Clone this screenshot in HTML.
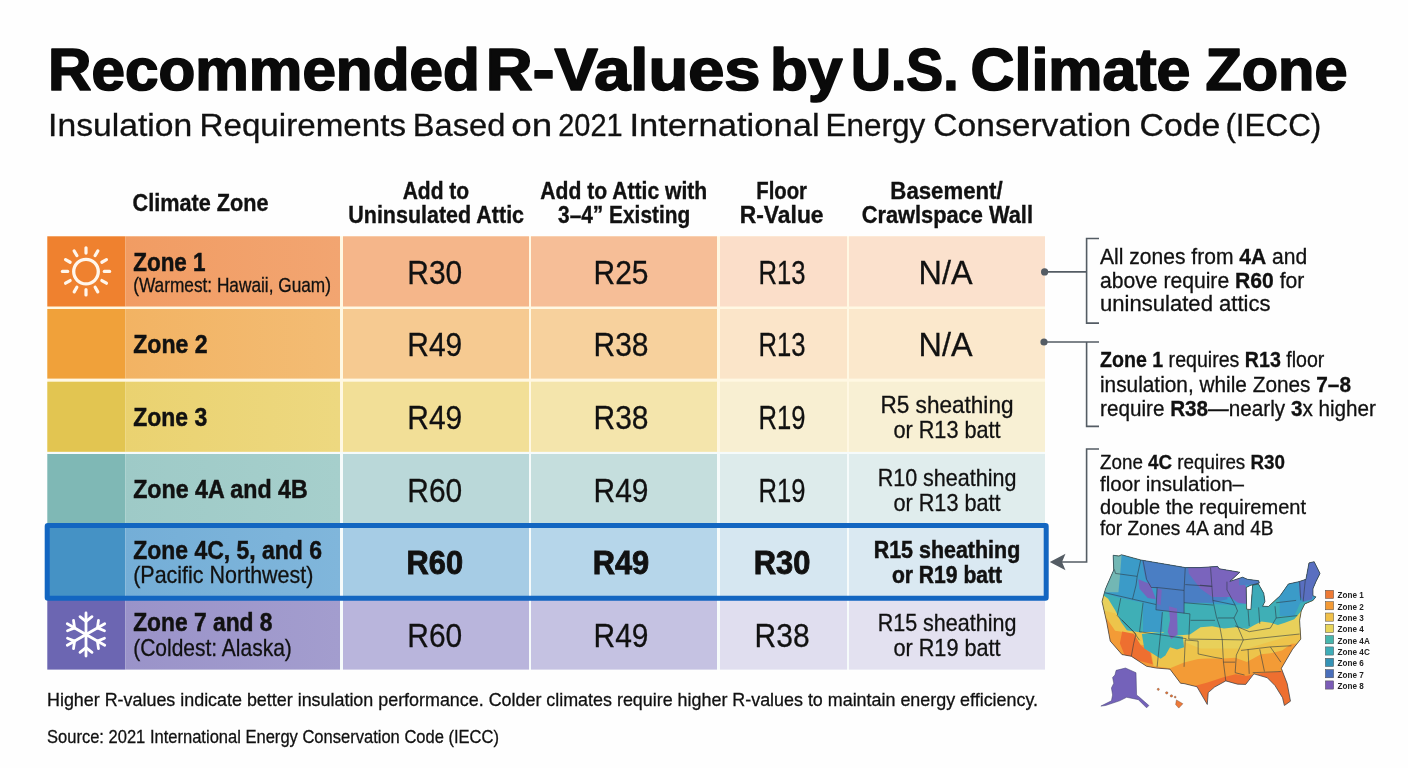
<!DOCTYPE html><html><head><meta charset="utf-8"><title>Recommended R-Values by U.S. Climate Zone</title>
<style>html,body{margin:0;padding:0;background:#fff;width:1408px;height:768px;overflow:hidden}svg{display:block;font-family:"Liberation Sans",sans-serif;will-change:transform}</style></head><body>
<svg width="1408" height="768" viewBox="0 0 1408 768">
<rect width="1408" height="768" fill="#fefefe"/>
<text x="48.1" y="90.2" font-size="58.6" font-weight="700" text-anchor="start" fill="#0a0a0a" textLength="431.6" lengthAdjust="spacingAndGlyphs" stroke="#0a0a0a" stroke-width="1.7" stroke-linejoin="round">Recommended</text>
<text x="485.8" y="90.2" font-size="58.6" font-weight="700" text-anchor="start" fill="#0a0a0a" textLength="274.7" lengthAdjust="spacingAndGlyphs" stroke="#0a0a0a" stroke-width="1.7" stroke-linejoin="round">R-Values</text>
<text x="770.0" y="90.2" font-size="58.6" font-weight="700" text-anchor="start" fill="#0a0a0a" textLength="72.5" lengthAdjust="spacingAndGlyphs" stroke="#0a0a0a" stroke-width="1.7" stroke-linejoin="round">by</text>
<text x="851.1" y="90.2" font-size="58.6" font-weight="700" text-anchor="start" fill="#0a0a0a" textLength="107.4" lengthAdjust="spacingAndGlyphs" stroke="#0a0a0a" stroke-width="1.7" stroke-linejoin="round">U.S.</text>
<text x="970.5" y="90.2" font-size="58.6" font-weight="700" text-anchor="start" fill="#0a0a0a" textLength="220" lengthAdjust="spacingAndGlyphs" stroke="#0a0a0a" stroke-width="1.7" stroke-linejoin="round">Climate</text>
<text x="1205.5" y="90.2" font-size="58.6" font-weight="700" text-anchor="start" fill="#0a0a0a" textLength="142" lengthAdjust="spacingAndGlyphs" stroke="#0a0a0a" stroke-width="1.7" stroke-linejoin="round">Zone</text>
<text x="48.1" y="135.9" font-size="31.5" font-weight="400" text-anchor="start" fill="#111" textLength="144.2" lengthAdjust="spacingAndGlyphs" stroke="#111" stroke-width="0.3">Insulation</text>
<text x="199.5" y="135.9" font-size="31.5" font-weight="400" text-anchor="start" fill="#111" textLength="206.5" lengthAdjust="spacingAndGlyphs" stroke="#111" stroke-width="0.3">Requirements</text>
<text x="412.8" y="135.9" font-size="31.5" font-weight="400" text-anchor="start" fill="#111" textLength="92.5" lengthAdjust="spacingAndGlyphs" stroke="#111" stroke-width="0.3">Based</text>
<text x="511.3" y="135.9" font-size="31.5" font-weight="400" text-anchor="start" fill="#111" textLength="41.0" lengthAdjust="spacingAndGlyphs" stroke="#111" stroke-width="0.3">on</text>
<text x="558.2" y="135.9" font-size="31.5" font-weight="400" text-anchor="start" fill="#111" textLength="64.4" lengthAdjust="spacingAndGlyphs" stroke="#111" stroke-width="0.3">2021</text>
<text x="629.4" y="135.9" font-size="31.5" font-weight="400" text-anchor="start" fill="#111" textLength="190.2" lengthAdjust="spacingAndGlyphs" stroke="#111" stroke-width="0.3">International</text>
<text x="825.5" y="135.9" font-size="31.5" font-weight="400" text-anchor="start" fill="#111" textLength="99.6" lengthAdjust="spacingAndGlyphs" stroke="#111" stroke-width="0.3">Energy</text>
<text x="933.3" y="135.9" font-size="31.5" font-weight="400" text-anchor="start" fill="#111" textLength="198.0" lengthAdjust="spacingAndGlyphs" stroke="#111" stroke-width="0.3">Conservation</text>
<text x="1139.6" y="135.9" font-size="31.5" font-weight="400" text-anchor="start" fill="#111" textLength="80.7" lengthAdjust="spacingAndGlyphs" stroke="#111" stroke-width="0.3">Code</text>
<text x="1225.4" y="135.9" font-size="31.5" font-weight="400" text-anchor="start" fill="#111" textLength="95.9" lengthAdjust="spacingAndGlyphs" stroke="#111" stroke-width="0.3">(IECC)</text>
<text x="132.5" y="210.9" font-size="23.3" font-weight="700" text-anchor="start" fill="#111" textLength="136" lengthAdjust="spacingAndGlyphs" stroke="#111" stroke-width="0.35">Climate Zone</text>
<text x="435.9" y="198.9" font-size="23.3" font-weight="700" text-anchor="middle" fill="#111" textLength="66.5" lengthAdjust="spacingAndGlyphs" stroke="#111" stroke-width="0.35">Add to</text>
<text x="436.15" y="222.8" font-size="23.3" font-weight="700" text-anchor="middle" fill="#111" textLength="175.8" lengthAdjust="spacingAndGlyphs" stroke="#111" stroke-width="0.35">Uninsulated Attic</text>
<text x="623.75" y="198.9" font-size="23.3" font-weight="700" text-anchor="middle" fill="#111" textLength="167.0" lengthAdjust="spacingAndGlyphs" stroke="#111" stroke-width="0.35">Add to Attic with</text>
<text x="624.15" y="222.8" font-size="23.3" font-weight="700" text-anchor="middle" fill="#111" textLength="132.2" lengthAdjust="spacingAndGlyphs" stroke="#111" stroke-width="0.35">3–4” Existing</text>
<text x="781.6" y="198.9" font-size="23.3" font-weight="700" text-anchor="middle" fill="#111" textLength="50.7" lengthAdjust="spacingAndGlyphs" stroke="#111" stroke-width="0.35">Floor</text>
<text x="781.65" y="222.8" font-size="23.3" font-weight="700" text-anchor="middle" fill="#111" textLength="83.8" lengthAdjust="spacingAndGlyphs" stroke="#111" stroke-width="0.35">R-Value</text>
<text x="946.5" y="198.9" font-size="23.3" font-weight="700" text-anchor="middle" fill="#111" textLength="112.3" lengthAdjust="spacingAndGlyphs" stroke="#111" stroke-width="0.35">Basement/</text>
<text x="947.3" y="222.8" font-size="23.3" font-weight="700" text-anchor="middle" fill="#111" textLength="171.3" lengthAdjust="spacingAndGlyphs" stroke="#111" stroke-width="0.35">Crawlspace Wall</text>
<defs>
<linearGradient id="zg0" x1="0" x2="1" y1="0" y2="0"><stop offset="0" stop-color="#F19C63"/><stop offset="1" stop-color="#F2A571"/></linearGradient>
<linearGradient id="zg1" x1="0" x2="1" y1="0" y2="0"><stop offset="0" stop-color="#F2B363"/><stop offset="1" stop-color="#F3BC74"/></linearGradient>
<linearGradient id="zg2" x1="0" x2="1" y1="0" y2="0"><stop offset="0" stop-color="#EAD270"/><stop offset="1" stop-color="#EDD880"/></linearGradient>
<linearGradient id="zg3" x1="0" x2="1" y1="0" y2="0"><stop offset="0" stop-color="#9ECAC7"/><stop offset="1" stop-color="#A6CFCC"/></linearGradient>
<linearGradient id="zg4" x1="0" x2="1" y1="0" y2="0"><stop offset="0" stop-color="#74AED7"/><stop offset="1" stop-color="#80B6DB"/></linearGradient>
<linearGradient id="zg5" x1="0" x2="1" y1="0" y2="0"><stop offset="0" stop-color="#9A93C9"/><stop offset="1" stop-color="#A39DCE"/></linearGradient>
</defs>
<rect x="47.3" y="236.3" width="997.7" height="218" fill="#FFF8E3"/>
<rect x="47.3" y="452" width="997.7" height="217.6" fill="#F6FBFB"/>
<rect x="47.3" y="236.3" width="78" height="70.19999999999999" fill="#EF812F"/>
<rect x="125.3" y="236.3" width="214.7" height="70.19999999999999" fill="url(#zg0)"/>
<rect x="343" y="236.3" width="186" height="70.19999999999999" fill="#F5B68A"/>
<rect x="531" y="236.3" width="186" height="70.19999999999999" fill="#F6BE97"/>
<rect x="720" y="236.3" width="127" height="70.19999999999999" fill="#FBDEC9"/>
<rect x="849" y="236.3" width="196" height="70.19999999999999" fill="#FBE1CD"/>
<rect x="47.3" y="309" width="78" height="69.60000000000002" fill="#F0A13A"/>
<rect x="125.3" y="309" width="214.7" height="69.60000000000002" fill="url(#zg1)"/>
<rect x="343" y="309" width="186" height="69.60000000000002" fill="#F6CA91"/>
<rect x="531" y="309" width="186" height="69.60000000000002" fill="#F7D19D"/>
<rect x="720" y="309" width="127" height="69.60000000000002" fill="#FBE5C9"/>
<rect x="849" y="309" width="196" height="69.60000000000002" fill="#FBE8CC"/>
<rect x="47.3" y="381.7" width="78" height="70.10000000000002" fill="#E2C551"/>
<rect x="125.3" y="381.7" width="214.7" height="70.10000000000002" fill="url(#zg2)"/>
<rect x="343" y="381.7" width="186" height="70.10000000000002" fill="#F2DF97"/>
<rect x="531" y="381.7" width="186" height="70.10000000000002" fill="#F4E5AC"/>
<rect x="720" y="381.7" width="127" height="70.10000000000002" fill="#F8EFD2"/>
<rect x="849" y="381.7" width="196" height="70.10000000000002" fill="#F8F0D4"/>
<rect x="47.3" y="454" width="78" height="70.20000000000005" fill="#7FB8B5"/>
<rect x="125.3" y="454" width="214.7" height="70.20000000000005" fill="url(#zg3)"/>
<rect x="343" y="454" width="186" height="70.20000000000005" fill="#BAD8D9"/>
<rect x="531" y="454" width="186" height="70.20000000000005" fill="#C5DEDD"/>
<rect x="720" y="454" width="127" height="70.20000000000005" fill="#DDEBEB"/>
<rect x="849" y="454" width="196" height="70.20000000000005" fill="#E0EDED"/>
<rect x="47.3" y="526.6" width="78" height="70.10000000000002" fill="#4592C5"/>
<rect x="125.3" y="526.6" width="214.7" height="70.10000000000002" fill="url(#zg4)"/>
<rect x="343" y="526.6" width="186" height="70.10000000000002" fill="#A6CCE5"/>
<rect x="531" y="526.6" width="186" height="70.10000000000002" fill="#B6D6EA"/>
<rect x="720" y="526.6" width="127" height="70.10000000000002" fill="#D6E7F1"/>
<rect x="849" y="526.6" width="196" height="70.10000000000002" fill="#DAE9F2"/>
<rect x="47.3" y="599.2" width="78" height="70.39999999999998" fill="#6C66B2"/>
<rect x="125.3" y="599.2" width="214.7" height="70.39999999999998" fill="url(#zg5)"/>
<rect x="343" y="599.2" width="186" height="70.39999999999998" fill="#B9B5DC"/>
<rect x="531" y="599.2" width="186" height="70.39999999999998" fill="#C5C2E2"/>
<rect x="720" y="599.2" width="127" height="70.39999999999998" fill="#E0DEEF"/>
<rect x="849" y="599.2" width="196" height="70.39999999999998" fill="#E3E1F0"/>
<text x="133.2" y="270.6" font-size="26.5" font-weight="700" text-anchor="start" fill="#111" textLength="72.4" lengthAdjust="spacingAndGlyphs" stroke="#111" stroke-width="0.5">Zone 1</text>
<text x="133.2" y="291.9" font-size="20.3" font-weight="400" text-anchor="start" fill="#111" textLength="197.8" lengthAdjust="spacingAndGlyphs" stroke="#111" stroke-width="0.3">(Warmest: Hawaii, Guam)</text>
<text x="133.2" y="353.0" font-size="26.5" font-weight="700" text-anchor="start" fill="#111" textLength="74.4" lengthAdjust="spacingAndGlyphs" stroke="#111" stroke-width="0.5">Zone 2</text>
<text x="133.2" y="425.9" font-size="26.5" font-weight="700" text-anchor="start" fill="#111" textLength="74.0" lengthAdjust="spacingAndGlyphs" stroke="#111" stroke-width="0.5">Zone 3</text>
<text x="133.2" y="498.3" font-size="26.5" font-weight="700" text-anchor="start" fill="#111" textLength="174.5" lengthAdjust="spacingAndGlyphs" stroke="#111" stroke-width="0.5">Zone 4A and 4B</text>
<text x="133.2" y="558.7" font-size="26.5" font-weight="700" text-anchor="start" fill="#111" textLength="188.8" lengthAdjust="spacingAndGlyphs" stroke="#111" stroke-width="0.5">Zone 4C, 5, and 6</text>
<text x="133.2" y="583.0" font-size="23.8" font-weight="400" text-anchor="start" fill="#111" textLength="180.2" lengthAdjust="spacingAndGlyphs" stroke="#111" stroke-width="0.3">(Pacific Northwest)</text>
<text x="133.2" y="631.2" font-size="26.5" font-weight="700" text-anchor="start" fill="#111" textLength="139.3" lengthAdjust="spacingAndGlyphs" stroke="#111" stroke-width="0.5">Zone 7 and 8</text>
<text x="133.2" y="655.5" font-size="23.8" font-weight="400" text-anchor="start" fill="#111" textLength="158.6" lengthAdjust="spacingAndGlyphs" stroke="#111" stroke-width="0.3">(Coldest: Alaska)</text>
<text x="434.8" y="283.9" font-size="34" font-weight="400" text-anchor="middle" fill="#111" textLength="55" lengthAdjust="spacingAndGlyphs" stroke="#111" stroke-width="0.3">R30</text>
<text x="621.0" y="283.9" font-size="34" font-weight="400" text-anchor="middle" fill="#111" textLength="55" lengthAdjust="spacingAndGlyphs" stroke="#111" stroke-width="0.3">R25</text>
<text x="782.1" y="283.9" font-size="34" font-weight="400" text-anchor="middle" fill="#111" textLength="47" lengthAdjust="spacingAndGlyphs" stroke="#111" stroke-width="0.3">R13</text>
<text x="945.5" y="283.9" font-size="34" font-weight="400" text-anchor="middle" fill="#111" textLength="54" lengthAdjust="spacingAndGlyphs" stroke="#111" stroke-width="0.3">N/A</text>
<text x="434.8" y="356.3" font-size="34" font-weight="400" text-anchor="middle" fill="#111" textLength="55" lengthAdjust="spacingAndGlyphs" stroke="#111" stroke-width="0.3">R49</text>
<text x="621.0" y="356.3" font-size="34" font-weight="400" text-anchor="middle" fill="#111" textLength="55" lengthAdjust="spacingAndGlyphs" stroke="#111" stroke-width="0.3">R38</text>
<text x="782.1" y="356.3" font-size="34" font-weight="400" text-anchor="middle" fill="#111" textLength="47" lengthAdjust="spacingAndGlyphs" stroke="#111" stroke-width="0.3">R13</text>
<text x="945.5" y="356.3" font-size="34" font-weight="400" text-anchor="middle" fill="#111" textLength="54" lengthAdjust="spacingAndGlyphs" stroke="#111" stroke-width="0.3">N/A</text>
<text x="434.8" y="429.2" font-size="34" font-weight="400" text-anchor="middle" fill="#111" textLength="55" lengthAdjust="spacingAndGlyphs" stroke="#111" stroke-width="0.3">R49</text>
<text x="621.0" y="429.2" font-size="34" font-weight="400" text-anchor="middle" fill="#111" textLength="55" lengthAdjust="spacingAndGlyphs" stroke="#111" stroke-width="0.3">R38</text>
<text x="782.1" y="429.2" font-size="34" font-weight="400" text-anchor="middle" fill="#111" textLength="47" lengthAdjust="spacingAndGlyphs" stroke="#111" stroke-width="0.3">R19</text>
<text x="947.0" y="413.2" font-size="23.2" font-weight="400" text-anchor="middle" fill="#111" textLength="133.0" lengthAdjust="spacingAndGlyphs" stroke="#111" stroke-width="0.3">R5 sheathing</text>
<text x="947.0" y="438.2" font-size="23.2" font-weight="400" text-anchor="middle" fill="#111" textLength="107.2" lengthAdjust="spacingAndGlyphs" stroke="#111" stroke-width="0.3">or R13 batt</text>
<text x="434.8" y="501.6" font-size="34" font-weight="400" text-anchor="middle" fill="#111" textLength="55" lengthAdjust="spacingAndGlyphs" stroke="#111" stroke-width="0.3">R60</text>
<text x="621.0" y="501.6" font-size="34" font-weight="400" text-anchor="middle" fill="#111" textLength="55" lengthAdjust="spacingAndGlyphs" stroke="#111" stroke-width="0.3">R49</text>
<text x="782.1" y="501.6" font-size="34" font-weight="400" text-anchor="middle" fill="#111" textLength="47" lengthAdjust="spacingAndGlyphs" stroke="#111" stroke-width="0.3">R19</text>
<text x="947.0" y="485.6" font-size="23.2" font-weight="400" text-anchor="middle" fill="#111" textLength="138.7" lengthAdjust="spacingAndGlyphs" stroke="#111" stroke-width="0.3">R10 sheathing</text>
<text x="947.0" y="510.6" font-size="23.2" font-weight="400" text-anchor="middle" fill="#111" textLength="107.2" lengthAdjust="spacingAndGlyphs" stroke="#111" stroke-width="0.3">or R13 batt</text>
<text x="434.8" y="574.2" font-size="34" font-weight="700" text-anchor="middle" fill="#111" textLength="56.5" lengthAdjust="spacingAndGlyphs" stroke="#111" stroke-width="0.9">R60</text>
<text x="621.0" y="574.2" font-size="34" font-weight="700" text-anchor="middle" fill="#111" textLength="56.5" lengthAdjust="spacingAndGlyphs" stroke="#111" stroke-width="0.9">R49</text>
<text x="782.1" y="574.2" font-size="34" font-weight="700" text-anchor="middle" fill="#111" textLength="56.5" lengthAdjust="spacingAndGlyphs" stroke="#111" stroke-width="0.9">R30</text>
<text x="947.0" y="558.2" font-size="23.2" font-weight="700" text-anchor="middle" fill="#111" textLength="146.6" lengthAdjust="spacingAndGlyphs" stroke="#111" stroke-width="0.5">R15 sheathing</text>
<text x="947.0" y="583.2" font-size="23.2" font-weight="700" text-anchor="middle" fill="#111" textLength="110.1" lengthAdjust="spacingAndGlyphs" stroke="#111" stroke-width="0.5">or R19 batt</text>
<text x="434.8" y="646.9" font-size="34" font-weight="400" text-anchor="middle" fill="#111" textLength="55" lengthAdjust="spacingAndGlyphs" stroke="#111" stroke-width="0.3">R60</text>
<text x="621.0" y="646.9" font-size="34" font-weight="400" text-anchor="middle" fill="#111" textLength="55" lengthAdjust="spacingAndGlyphs" stroke="#111" stroke-width="0.3">R49</text>
<text x="782.1" y="646.9" font-size="34" font-weight="400" text-anchor="middle" fill="#111" textLength="55" lengthAdjust="spacingAndGlyphs" stroke="#111" stroke-width="0.3">R38</text>
<text x="947.0" y="630.9" font-size="23.2" font-weight="400" text-anchor="middle" fill="#111" textLength="138.7" lengthAdjust="spacingAndGlyphs" stroke="#111" stroke-width="0.3">R15 sheathing</text>
<text x="947.0" y="655.9" font-size="23.2" font-weight="400" text-anchor="middle" fill="#111" textLength="107.2" lengthAdjust="spacingAndGlyphs" stroke="#111" stroke-width="0.3">or R19 batt</text>
<rect x="47.2" y="525.6" width="999" height="72.7" rx="0.8" fill="none" stroke="#1366C1" stroke-width="5"/>
<g stroke="#FFF6EC" stroke-linecap="round" fill="none"><circle cx="86" cy="271.6" r="12.3" stroke-width="3.3"/><line x1="104.30" y1="271.40" x2="109.60" y2="271.40" stroke-width="3.2"/><line x1="101.85" y1="280.55" x2="106.44" y2="283.20" stroke-width="3.2"/><line x1="95.15" y1="287.25" x2="97.80" y2="291.84" stroke-width="3.2"/><line x1="86.00" y1="289.70" x2="86.00" y2="295.00" stroke-width="3.2"/><line x1="76.85" y1="287.25" x2="74.20" y2="291.84" stroke-width="3.2"/><line x1="70.15" y1="280.55" x2="65.56" y2="283.20" stroke-width="3.2"/><line x1="67.70" y1="271.40" x2="62.40" y2="271.40" stroke-width="3.2"/><line x1="70.15" y1="262.25" x2="65.56" y2="259.60" stroke-width="3.2"/><line x1="76.85" y1="255.55" x2="74.20" y2="250.96" stroke-width="3.2"/><line x1="86.00" y1="253.10" x2="86.00" y2="247.80" stroke-width="3.2"/><line x1="95.15" y1="255.55" x2="97.80" y2="250.96" stroke-width="3.2"/><line x1="101.85" y1="262.25" x2="106.44" y2="259.60" stroke-width="3.2"/></g>
<g stroke="#FFFFFF" stroke-linecap="round" fill="none" stroke-width="2.8"><line x1="86" y1="634.5" x2="86.00" y2="612.90"/><line x1="86.00" y1="621.30" x2="91.99" y2="616.62"/><line x1="86.00" y1="621.30" x2="80.01" y2="616.62"/><line x1="86" y1="634.5" x2="67.29" y2="623.70"/><line x1="74.57" y1="627.90" x2="73.51" y2="620.37"/><line x1="74.57" y1="627.90" x2="67.52" y2="630.75"/><line x1="86" y1="634.5" x2="67.29" y2="645.30"/><line x1="74.57" y1="641.10" x2="67.52" y2="638.25"/><line x1="74.57" y1="641.10" x2="73.51" y2="648.63"/><line x1="86" y1="634.5" x2="86.00" y2="656.10"/><line x1="86.00" y1="647.70" x2="80.01" y2="652.38"/><line x1="86.00" y1="647.70" x2="91.99" y2="652.38"/><line x1="86" y1="634.5" x2="104.71" y2="645.30"/><line x1="97.43" y1="641.10" x2="98.49" y2="648.63"/><line x1="97.43" y1="641.10" x2="104.48" y2="638.25"/><line x1="86" y1="634.5" x2="104.71" y2="623.70"/><line x1="97.43" y1="627.90" x2="104.48" y2="630.75"/><line x1="97.43" y1="627.90" x2="98.49" y2="620.37"/></g>
<g stroke="#545C64" stroke-width="1.6" fill="none">
<path d="M1099 238.5 H1086.6 V323.1 H1099"/>
<path d="M1044.6 271.9 H1086.6"/>
<path d="M1044 342 H1099 M1086.6 342 V426.4 H1099"/>
<path d="M1099 449 H1086.6 V562 H1062"/>
</g>
<circle cx="1044.6" cy="271.9" r="3.6" fill="#545C64"/>
<circle cx="1044" cy="342" r="3.6" fill="#545C64"/>
<path d="M1049.8 562 L1065.5 553.8 L1062 562 L1065.5 570.2 Z" fill="#545C64"/>
<text x="1100" y="263.6" font-size="21.5" font-weight="400" text-anchor="start" fill="#111" textLength="207.2" lengthAdjust="spacingAndGlyphs" stroke="#111" stroke-width="0.3"><tspan font-weight="400">All zones from </tspan><tspan font-weight="700">4A</tspan><tspan font-weight="400"> and</tspan></text>
<text x="1100" y="287.5" font-size="21.5" font-weight="400" text-anchor="start" fill="#111" textLength="204.3" lengthAdjust="spacingAndGlyphs" stroke="#111" stroke-width="0.3"><tspan font-weight="400">above require </tspan><tspan font-weight="700">R60</tspan><tspan font-weight="400"> for</tspan></text>
<text x="1100" y="311.2" font-size="21.5" font-weight="400" text-anchor="start" fill="#111" textLength="170.6" lengthAdjust="spacingAndGlyphs" stroke="#111" stroke-width="0.3"><tspan font-weight="400">uninsulated attics</tspan></text>
<text x="1100" y="367.4" font-size="21.5" font-weight="400" text-anchor="start" fill="#111" textLength="224.4" lengthAdjust="spacingAndGlyphs" stroke="#111" stroke-width="0.3"><tspan font-weight="700">Zone 1</tspan><tspan font-weight="400"> requires </tspan><tspan font-weight="700">R13</tspan><tspan font-weight="400"> floor</tspan></text>
<text x="1100" y="391.8" font-size="21.5" font-weight="400" text-anchor="start" fill="#111" textLength="251" lengthAdjust="spacingAndGlyphs" stroke="#111" stroke-width="0.3"><tspan font-weight="400">insulation, while Zones </tspan><tspan font-weight="700">7–8</tspan></text>
<text x="1100" y="416.0" font-size="21.5" font-weight="400" text-anchor="start" fill="#111" textLength="276" lengthAdjust="spacingAndGlyphs" stroke="#111" stroke-width="0.3"><tspan font-weight="400">require </tspan><tspan font-weight="700">R38</tspan><tspan font-weight="400">—nearly </tspan><tspan font-weight="700">3</tspan><tspan font-weight="400">x higher</tspan></text>
<text x="1100" y="469.2" font-size="20.3" font-weight="400" text-anchor="start" fill="#111" textLength="185" lengthAdjust="spacingAndGlyphs" stroke="#111" stroke-width="0.3"><tspan font-weight="400">Zone </tspan><tspan font-weight="700">4C</tspan><tspan font-weight="400"> requires </tspan><tspan font-weight="700">R30</tspan></text>
<text x="1100" y="491.0" font-size="20.3" font-weight="400" text-anchor="start" fill="#111" textLength="144" lengthAdjust="spacingAndGlyphs" stroke="#111" stroke-width="0.3"><tspan font-weight="400">floor insulation–</tspan></text>
<text x="1100" y="513.5" font-size="20.3" font-weight="400" text-anchor="start" fill="#111" textLength="206" lengthAdjust="spacingAndGlyphs" stroke="#111" stroke-width="0.3"><tspan font-weight="400">double the requirement</tspan></text>
<text x="1100" y="535.2" font-size="20.3" font-weight="400" text-anchor="start" fill="#111" textLength="173.5" lengthAdjust="spacingAndGlyphs" stroke="#111" stroke-width="0.3"><tspan font-weight="400">for Zones 4A and 4B</tspan></text>
<text x="47" y="706" font-size="18.6" font-weight="400" text-anchor="start" fill="#111" textLength="991" lengthAdjust="spacingAndGlyphs" stroke="#111" stroke-width="0.3">Higher R-values indicate better insulation performance. Colder climates require higher R-values to maintain energy efficiency.</text>
<text x="47" y="743.3" font-size="18.6" font-weight="400" text-anchor="start" fill="#111" textLength="452" lengthAdjust="spacingAndGlyphs" stroke="#111" stroke-width="0.3">Source: 2021 International Energy Conservation Code (IECC)</text>
<g transform="translate(1095,550) scale(0.11719)">
<defs><clipPath id="usclip"><polygon points="155,45 205,52 225,40 390,85 770,150 896,150 1046,140 1060,160 1236,190 1150,268 1260,232 1300,250 1396,262 1402,282 1330,300 1290,320 1294,505 1330,508 1345,300 1395,290 1440,370 1450,440 1430,480 1480,482 1580,390 1650,290 1740,270 1800,250 1826,110 1870,100 1920,200 1885,270 1860,330 1860,390 1885,400 1860,430 1790,460 1760,520 1746,600 1756,760 1686,847 1590,1010 1640,1140 1668,1290 1616,1327 1600,1260 1536,1157 1470,1090 1356,1057 1286,1147 1216,1145 1116,1117 1020,1170 966,1217 958,1318 870,1167 760,1140 730,1137 640,1017 520,1007 440,992 310,907 230,892 130,777 100,617 60,440 80,365 90,330 160,170"/></clipPath></defs>
<g clip-path="url(#usclip)">
<rect x="0" y="0" width="2000" height="1400" fill="#EE6F30"/>
<polygon fill="#F39B36" points="0,0 2000,0 2000,1000 1700,1000 1560,1040 1460,1045 1380,1055 1290,1075 1200,1060 1096,1085 960,1130 850,1160 760,1170 600,1040 540,1010 500,1200 0,1200"/>
<polygon fill="#EDC44B" points="0,0 2000,0 2000,790 1676,800 1596,857 1500,880 1416,890 1296,955 1196,920 1096,925 960,925 880,930 760,960 640,1010 500,990 470,820 330,800 240,700 172,690 100,585 0,575"/>
<polygon fill="#E8D05A" points="0,0 2000,0 2000,700 1700,720 1300,840 900,840 600,720 300,690 172,540 0,500"/>
<polygon fill="#EE6F30" points="232,695 332,715 392,815 472,875 492,975 332,935 252,895 212,795"/>
<polygon fill="#3FAFB6" points="0,0 2000,0 2000,520 1760,520 1700,590 1620,620 1560,640 1500,620 1420,610 1360,640 1300,675 1200,660 1100,670 1000,650 900,660 810,720 700,730 610,720 512,655 392,705 272,685 222,615 172,515 112,415 62,380 0,370"/>
<polygon fill="#3FAFB6" points="400,717 550,700 750,740 760,830 700,850 640,830 600,900 560,927 500,890 420,840"/>
<polygon fill="#3B9BC8" points="0,0 1024,0 1024,450 760,450 575,530 575,700 410,700 410,450 220,410 80,370 0,370"/>
<polygon fill="#3B9BC8" points="896,0 2000,0 2000,400 1750,450 1700,560 1580,560 1580,420 1200,470 1000,460 896,450"/>
<polygon fill="#4A7EC4" points="400,0 1130,0 1130,420 1000,450 760,450 760,540 520,510 530,330 470,320 430,240 400,90"/>
<polygon fill="#7A64BD" points="780,0 1180,0 1250,230 1296,330 1300,460 1220,450 1150,400 1000,400 900,330 800,200"/>
<polygon fill="#7564BD" points="370,250 470,290 520,420 450,410 380,330"/>
<polygon fill="#7564BD" points="530,330 570,340 560,470 530,460"/>
<polygon fill="#7A64BD" points="630,480 700,500 705,720 650,760 620,700 640,600"/>
<polygon fill="#596FC0" points="1640,300 1720,260 1826,100 1900,100 2000,200 1880,300 1850,420 1780,440 1700,330"/>
<polygon fill="#4F7CC4" points="1230,220 1420,220 1420,290 1230,300"/>
<polygon fill="#3DAAB8" points="1326,292 1480,292 1480,490 1326,495"/>
<polygon fill="#3B9BC8" points="1576,300 1740,260 1750,450 1700,560 1576,560"/>
<polygon fill="#72B7B4" points="0,0 230,0 215,200 200,360 0,360"/>
<polyline fill="none" stroke="#2E3A45" stroke-width="5" stroke-linejoin="round" points="165,165 175,200 360,225"/>
<polyline fill="none" stroke="#2E3A45" stroke-width="5" stroke-linejoin="round" points="390,85 360,225 350,300 320,420"/>
<polyline fill="none" stroke="#2E3A45" stroke-width="5" stroke-linejoin="round" points="85,365 520,465"/>
<polyline fill="none" stroke="#2E3A45" stroke-width="5" stroke-linejoin="round" points="410,90 440,250 480,320 530,320"/>
<polyline fill="none" stroke="#2E3A45" stroke-width="5" stroke-linejoin="round" points="530,320 760,345"/>
<polyline fill="none" stroke="#2E3A45" stroke-width="5" stroke-linejoin="round" points="530,320 520,510 810,545"/>
<polyline fill="none" stroke="#2E3A45" stroke-width="5" stroke-linejoin="round" points="760,345 760,540"/>
<polyline fill="none" stroke="#2E3A45" stroke-width="5" stroke-linejoin="round" points="770,150 760,345"/>
<polyline fill="none" stroke="#2E3A45" stroke-width="5" stroke-linejoin="round" points="770,295 1000,310"/>
<polyline fill="none" stroke="#2E3A45" stroke-width="5" stroke-linejoin="round" points="760,450 1010,470"/>
<polyline fill="none" stroke="#2E3A45" stroke-width="5" stroke-linejoin="round" points="410,450 380,700"/>
<polyline fill="none" stroke="#2E3A45" stroke-width="5" stroke-linejoin="round" points="220,410 190,560 330,700 380,770"/>
<polyline fill="none" stroke="#2E3A45" stroke-width="5" stroke-linejoin="round" points="575,530 560,705"/>
<polyline fill="none" stroke="#2E3A45" stroke-width="5" stroke-linejoin="round" points="810,545 800,760"/>
<polyline fill="none" stroke="#2E3A45" stroke-width="5" stroke-linejoin="round" points="815,600 1024,600"/>
<polyline fill="none" stroke="#2E3A45" stroke-width="5" stroke-linejoin="round" points="230,597 350,717 330,797 310,907"/>
<polyline fill="none" stroke="#2E3A45" stroke-width="5" stroke-linejoin="round" points="560,705 530,997"/>
<polyline fill="none" stroke="#2E3A45" stroke-width="5" stroke-linejoin="round" points="380,697 780,757"/>
<polyline fill="none" stroke="#2E3A45" stroke-width="5" stroke-linejoin="round" points="770,767 760,997"/>
<polyline fill="none" stroke="#2E3A45" stroke-width="5" stroke-linejoin="round" points="770,767 880,777 880,887 1024,917"/>
<polyline fill="none" stroke="#2E3A45" stroke-width="5" stroke-linejoin="round" points="800,760 1266,767 1746,717"/>
<polyline fill="none" stroke="#2E3A45" stroke-width="5" stroke-linejoin="round" points="1246,857 1496,827 1676,817"/>
<polyline fill="none" stroke="#2E3A45" stroke-width="5" stroke-linejoin="round" points="1024,917 1086,927"/>
<polyline fill="none" stroke="#2E3A45" stroke-width="5" stroke-linejoin="round" points="1086,767 1096,957 1196,957"/>
<polyline fill="none" stroke="#2E3A45" stroke-width="5" stroke-linejoin="round" points="1266,767 1206,897 1196,1047 1276,1067"/>
<polyline fill="none" stroke="#2E3A45" stroke-width="5" stroke-linejoin="round" points="1096,957 1116,1117"/>
<polyline fill="none" stroke="#2E3A45" stroke-width="5" stroke-linejoin="round" points="1306,847 1316,1057"/>
<polyline fill="none" stroke="#2E3A45" stroke-width="5" stroke-linejoin="round" points="1406,847 1446,1037"/>
<polyline fill="none" stroke="#2E3A45" stroke-width="5" stroke-linejoin="round" points="1346,1047 1586,1037"/>
<polyline fill="none" stroke="#2E3A45" stroke-width="5" stroke-linejoin="round" points="1496,827 1586,957"/>
<polyline fill="none" stroke="#2E3A45" stroke-width="5" stroke-linejoin="round" points="1196,647 1316,697 1496,667 1546,580"/>
<polyline fill="none" stroke="#2E3A45" stroke-width="5" stroke-linejoin="round" points="986,150 1006,430 1036,570 1066,660 1086,767"/>
<polyline fill="none" stroke="#2E3A45" stroke-width="5" stroke-linejoin="round" points="896,300 996,310"/>
<polyline fill="none" stroke="#2E3A45" stroke-width="5" stroke-linejoin="round" points="1006,430 1196,470 1216,520 1186,580 1046,580"/>
<polyline fill="none" stroke="#2E3A45" stroke-width="5" stroke-linejoin="round" points="1126,270 1126,340 1196,470"/>
<polyline fill="none" stroke="#2E3A45" stroke-width="5" stroke-linejoin="round" points="1306,510 1316,650"/>
<polyline fill="none" stroke="#2E3A45" stroke-width="5" stroke-linejoin="round" points="1396,490 1406,630"/>
<polyline fill="none" stroke="#2E3A45" stroke-width="5" stroke-linejoin="round" points="1536,480 1546,580"/>
<polyline fill="none" stroke="#2E3A45" stroke-width="5" stroke-linejoin="round" points="1546,450 1716,430"/>
<polyline fill="none" stroke="#2E3A45" stroke-width="5" stroke-linejoin="round" points="1546,580 1726,560"/>
<polyline fill="none" stroke="#2E3A45" stroke-width="5" stroke-linejoin="round" points="1746,270 1756,430"/>
<polyline fill="none" stroke="#2E3A45" stroke-width="5" stroke-linejoin="round" points="1796,240 1776,440"/>
<polyline fill="none" stroke="#2E3A45" stroke-width="5" stroke-linejoin="round" points="1186,580 1266,767"/>
</g>
<polygon fill="none" stroke="#2E3A45" stroke-width="6" stroke-linejoin="round" points="155,45 205,52 225,40 390,85 770,150 896,150 1046,140 1060,160 1236,190 1150,268 1260,232 1300,250 1396,262 1402,282 1330,300 1290,320 1294,505 1330,508 1345,300 1395,290 1440,370 1450,440 1430,480 1480,482 1580,390 1650,290 1740,270 1800,250 1826,110 1870,100 1920,200 1885,270 1860,330 1860,390 1885,400 1860,430 1790,460 1760,520 1746,600 1756,760 1686,847 1590,1010 1640,1140 1668,1290 1616,1327 1600,1260 1536,1157 1470,1090 1356,1057 1286,1147 1216,1145 1116,1117 1020,1170 966,1217 958,1318 870,1167 760,1140 730,1137 640,1017 520,1007 440,992 310,907 230,892 130,777 100,617 60,440 80,365 90,330 160,170"/>
<polygon fill="#7462BA" stroke="#3a3a6a" stroke-width="4" points="180,1027 260,1007 350,1047 355,1237 380,1257 460,1327 440,1347 370,1277 270,1257 210,1287 90,1327 50,1332 140,1287 150,1237 140,1177 160,1137 150,1087 170,1067"/>
<circle cx="540" cy="1189" r="9" fill="#EE7A3A" stroke="#553322" stroke-width="3"/>
<circle cx="612" cy="1219" r="10" fill="#EE7A3A" stroke="#553322" stroke-width="3"/>
<circle cx="652" cy="1245" r="10" fill="#EE7A3A" stroke="#553322" stroke-width="3"/>
<circle cx="684" cy="1255" r="8" fill="#EE7A3A" stroke="#553322" stroke-width="3"/>
<polygon fill="#EE7A3A" stroke="#553322" stroke-width="3" points="695,1279 750,1312 715,1349 688,1319"/>
</g>
<rect x="1325.4" y="590.3" width="8.2" height="8.2" fill="#EE7A35" stroke="#4a4a4a" stroke-width="0.5"/>
<text x="1337.6" y="598.2" font-size="9.3" font-weight="700" fill="#222" textLength="26.2" lengthAdjust="spacingAndGlyphs">Zone 1</text>
<rect x="1325.4" y="601.6" width="8.2" height="8.2" fill="#F39A35" stroke="#4a4a4a" stroke-width="0.5"/>
<text x="1337.6" y="609.5" font-size="9.3" font-weight="700" fill="#222" textLength="26.2" lengthAdjust="spacingAndGlyphs">Zone 2</text>
<rect x="1325.4" y="613.0" width="8.2" height="8.2" fill="#F0C04A" stroke="#4a4a4a" stroke-width="0.5"/>
<text x="1337.6" y="620.9" font-size="9.3" font-weight="700" fill="#222" textLength="26.2" lengthAdjust="spacingAndGlyphs">Zone 3</text>
<rect x="1325.4" y="624.3" width="8.2" height="8.2" fill="#E8D55A" stroke="#4a4a4a" stroke-width="0.5"/>
<text x="1337.6" y="632.2" font-size="9.3" font-weight="700" fill="#222" textLength="26.2" lengthAdjust="spacingAndGlyphs">Zone 4</text>
<rect x="1325.4" y="635.6" width="8.2" height="8.2" fill="#47B6AD" stroke="#4a4a4a" stroke-width="0.5"/>
<text x="1337.6" y="643.5" font-size="9.3" font-weight="700" fill="#222" textLength="32.2" lengthAdjust="spacingAndGlyphs">Zone 4A</text>
<rect x="1325.4" y="646.9" width="8.2" height="8.2" fill="#3FADB8" stroke="#4a4a4a" stroke-width="0.5"/>
<text x="1337.6" y="654.8" font-size="9.3" font-weight="700" fill="#222" textLength="32.2" lengthAdjust="spacingAndGlyphs">Zone 4C</text>
<rect x="1325.4" y="658.3" width="8.2" height="8.2" fill="#3593B6" stroke="#4a4a4a" stroke-width="0.5"/>
<text x="1337.6" y="666.2" font-size="9.3" font-weight="700" fill="#222" textLength="26.2" lengthAdjust="spacingAndGlyphs">Zone 6</text>
<rect x="1325.4" y="669.6" width="8.2" height="8.2" fill="#4A6FBB" stroke="#4a4a4a" stroke-width="0.5"/>
<text x="1337.6" y="677.5" font-size="9.3" font-weight="700" fill="#222" textLength="26.2" lengthAdjust="spacingAndGlyphs">Zone 7</text>
<rect x="1325.4" y="680.9" width="8.2" height="8.2" fill="#7B5CB6" stroke="#4a4a4a" stroke-width="0.5"/>
<text x="1337.6" y="688.8" font-size="9.3" font-weight="700" fill="#222" textLength="26.2" lengthAdjust="spacingAndGlyphs">Zone 8</text>
</svg></body></html>
